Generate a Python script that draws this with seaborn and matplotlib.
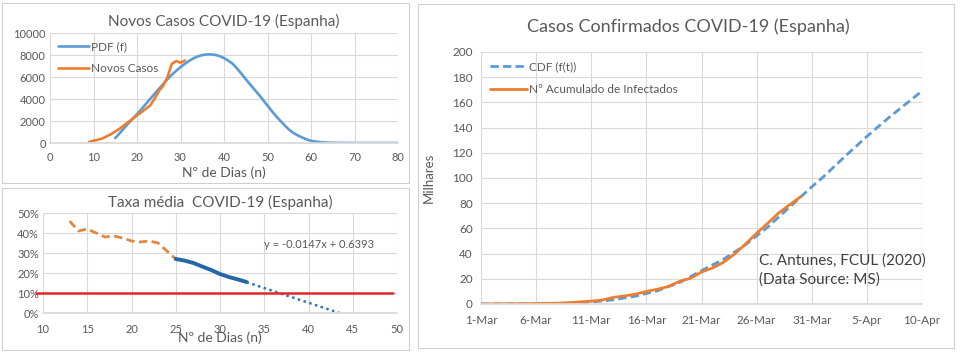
import numpy as np
import pandas as pd
import matplotlib
matplotlib.use("Agg")
import matplotlib.pyplot as plt
import matplotlib.dates as mdates
from matplotlib.patches import Rectangle
from matplotlib.ticker import FuncFormatter
import seaborn as sns

# ── Novos Casos (top left) ───────────────────────────────────────────────────
pdf_days = list(range(15, 66)) + [67, 70, 75, 80]
pdf_cases = [450, 880, 1330, 1780, 2200, 2620, 3070, 3530, 4000, 4450,
             4900, 5350, 5800, 6200, 6560, 6900, 7200, 7470, 7700, 7880,
             7990, 8050, 8060, 8010, 7900, 7720, 7480, 7200, 6770, 6300,
             5800, 5330, 4860, 4400, 3900, 3400, 2900, 2420, 2000, 1580,
             1200, 900, 680, 500, 330, 200, 130, 80, 50, 30,
             20, 8, 0, 0, 0]
new_days = list(range(9, 32))
new_cases = [100, 200, 300, 400, 600, 800, 1050, 1300, 1600, 1900, 2200, 2500,
             2800, 3100, 3400, 4000, 4700, 5200, 6000, 7200, 7450, 7300, 7500]

# ── Taxa média (bottom left) ─────────────────────────────────────────────────
rate_days_a = list(range(13, 26))
rate_a = [0.46, 0.41, 0.42, 0.40, 0.38, 0.385, 0.375, 0.36, 0.355, 0.36,
          0.35, 0.31, 0.27]
rate_days_b = list(range(25, 34))
rate_b = [0.27, 0.262, 0.25, 0.232, 0.215, 0.195, 0.18, 0.168, 0.155]
trend_days = [33, 43.5]
trend_rate = [0.1542, 0.0]
trend_label = "y = -0.0147x + 0.6393"
threshold = 0.10

# ── Casos Confirmados (right), milhares ──────────────────────────────────────
cdf_day = [0, 2, 4, 6, 8, 10, 12, 14, 16, 18, 20, 22, 24, 26, 28, 29, 30,
           31, 33, 35, 37, 39, 40]
cdf_val = [0.0, 0.02, 0.08, 0.25, 0.6, 1.5, 3.3, 6.2, 10.5, 17.0, 26.5, 35.5,
           47.0, 61.0, 77.0, 85.0, 93.0, 100.5, 117.0, 133.0, 148.0, 162.0,
           169.0]
cum_cases = [84, 120, 165, 222, 259, 400, 500, 673, 1073, 1695, 2277, 3146,
             5232, 6391, 7798, 9942, 11748, 13910, 17963, 20410, 25374, 28572,
             33089, 39673, 47610, 56188, 64059, 72248, 78797, 85195]
start = pd.Timestamp("2020-03-01")
cdf_dates = [start + pd.Timedelta(days=d) for d in cdf_day]
cum_dates = list(pd.date_range(start, periods=len(cum_cases), freq="D"))
cum_k = [c / 1000 for c in cum_cases]

BLUE = "#5b9bd5"
ORANGE = "#ed7d31"
DARKBLUE = "#2467a8"
RED = "#e3262b"
TXT = "#595959"
GRID = "#d9d9d9"

sns.set_theme(style="whitegrid")
plt.rcParams["font.family"] = ["Lato", "DejaVu Sans"]
plt.rcParams["grid.color"] = GRID
plt.rcParams["grid.linewidth"] = 0.8

fig = plt.figure(figsize=(9.6, 3.56), dpi=100)
W, H = 960, 356


def px_axes(x0, y0, x1, y1):
    return fig.add_axes([x0 / W, 1 - y1 / H, (x1 - x0) / W, (y1 - y0) / H])


def style(ax, size=8, xpad=3):
    for s in ["top", "right", "left"]:
        ax.spines[s].set_visible(False)
    ax.spines["bottom"].set_color(GRID)
    ax.tick_params(axis="both", length=0, labelsize=size, colors=TXT, pad=3)
    ax.tick_params(axis="x", pad=xpad)
    ax.grid(True, color=GRID, linewidth=0.8)


# panel borders
for (x0, y0, x1, y1) in [(2, 3, 409, 183), (2, 188, 409, 350), (418, 4, 954, 348)]:
    fig.patches.append(Rectangle((x0 / W, 1 - y1 / H), (x1 - x0) / W, (y1 - y0) / H,
                                 transform=fig.transFigure, fill=False,
                                 edgecolor="#d0d0d0", linewidth=0.8))

# ── top left ─────────────────────────────────────────────────────────────────
ax1 = px_axes(50, 33, 398, 143)
sns.lineplot(x=pdf_days, y=pdf_cases, ax=ax1, color=BLUE, linewidth=1.9,
             label="PDF (f)")
sns.lineplot(x=new_days, y=new_cases, ax=ax1, color=ORANGE, linewidth=1.9,
             label="Novos Casos")
ax1.set_xlim(0, 80)
ax1.set_ylim(0, 10000)
ax1.set_xticks(range(0, 81, 10))
ax1.set_yticks(range(0, 10001, 2000))
style(ax1, 8, xpad=6.5)
ax1.set_title("Novos Casos COVID-19 (Espanha)", fontsize=11, color=TXT, pad=5)
ax1.set_xlabel("Nº de Dias (n)", fontsize=10, color=TXT)
ax1.xaxis.label.set_va("center")
ax1.xaxis.set_label_coords(0.5, -0.27)
leg = ax1.legend(loc="upper left", frameon=False, fontsize=8.5, handlelength=2.6,
                 handletextpad=0.2, labelspacing=0.9, borderaxespad=0.3)
for t in leg.get_texts():
    t.set_color(TXT)

# ── bottom left ──────────────────────────────────────────────────────────────
ax2 = px_axes(43, 213, 397, 313)
ax2.axhline(threshold, xmin=-0.02, xmax=0.99, color=RED, linewidth=1.8,
            clip_on=False, zorder=3)
sns.lineplot(x=rate_days_a, y=rate_a, ax=ax2, color="#e0883f", linewidth=2.0,
             linestyle=(0, (3, 1.6)))
sns.lineplot(x=rate_days_b, y=rate_b, ax=ax2, color=DARKBLUE, linewidth=2.8)
sns.lineplot(x=trend_days, y=trend_rate, ax=ax2, color="#2e75b6", linewidth=1.8,
             linestyle=(0, (1, 1.4)))
ax2.set_xlim(10, 50)
ax2.set_ylim(0, 0.5)
ax2.set_xticks(range(10, 51, 5))
ax2.set_yticks(np.arange(0, 0.51, 0.1))
ax2.yaxis.set_major_formatter(FuncFormatter(lambda v, p: f"{v * 100:.0f}%"))
style(ax2, 8, xpad=8)
ax2.set_title("Taxa média  COVID-19 (Espanha)", fontsize=11, color=TXT, pad=4)
ax2.set_xlabel("Nº de Dias (n)", fontsize=10, color=TXT)
ax2.xaxis.label.set_va("center")
ax2.xaxis.set_label_coords(0.5, -0.245)
ax2.text(0.623, 0.68, trend_label, transform=ax2.transAxes, fontsize=8,
         color=TXT, va="center")

# ── right ────────────────────────────────────────────────────────────────────
ax3 = px_axes(481, 52, 922, 304)
sns.lineplot(x=cdf_dates, y=cdf_val, ax=ax3, color=BLUE, linewidth=2.0,
             linestyle=(0, (3, 1.5)), label="CDF (f(t))")
sns.lineplot(x=cum_dates, y=cum_k, ax=ax3, color=ORANGE, linewidth=2.0,
             label="Nº Acumulado de Infectados")
ax3.set_xlim(start, start + pd.Timedelta(days=40))
ax3.set_ylim(0, 200)
ax3.set_yticks(range(0, 201, 20))
ax3.set_xticks(list(pd.date_range(start, periods=9, freq="5D")))
ax3.xaxis.set_major_formatter(FuncFormatter(
    lambda v, p: f"{mdates.num2date(v).day}-{mdates.num2date(v).strftime('%b')}"))
style(ax3, 8.5, xpad=8)
ax3.tick_params(axis="y", pad=6)
ax3.set_xlabel("")
ax3.set_ylabel("Milhares", fontsize=9.5, color=TXT)
ax3.yaxis.set_label_coords(-0.104, 0.5)
fig.text(688 / W, 1 - 27 / H, "Casos Confirmados COVID-19 (Espanha)",
         fontsize=13, color=TXT, ha="center", va="center")
ax3.text(0.63, 0.135, "C. Antunes, FCUL (2020)\n(Data Source: MS)",
         transform=ax3.transAxes, fontsize=11, color="#404040", va="center",
         linespacing=1.35)
leg = ax3.legend(loc="upper left", frameon=False, fontsize=8.5, handlelength=3.1,
                 handletextpad=0.2, labelspacing=0.95, borderaxespad=0.4)
for t in leg.get_texts():
    t.set_color(TXT)

fig.savefig("out.png", dpi=100)
